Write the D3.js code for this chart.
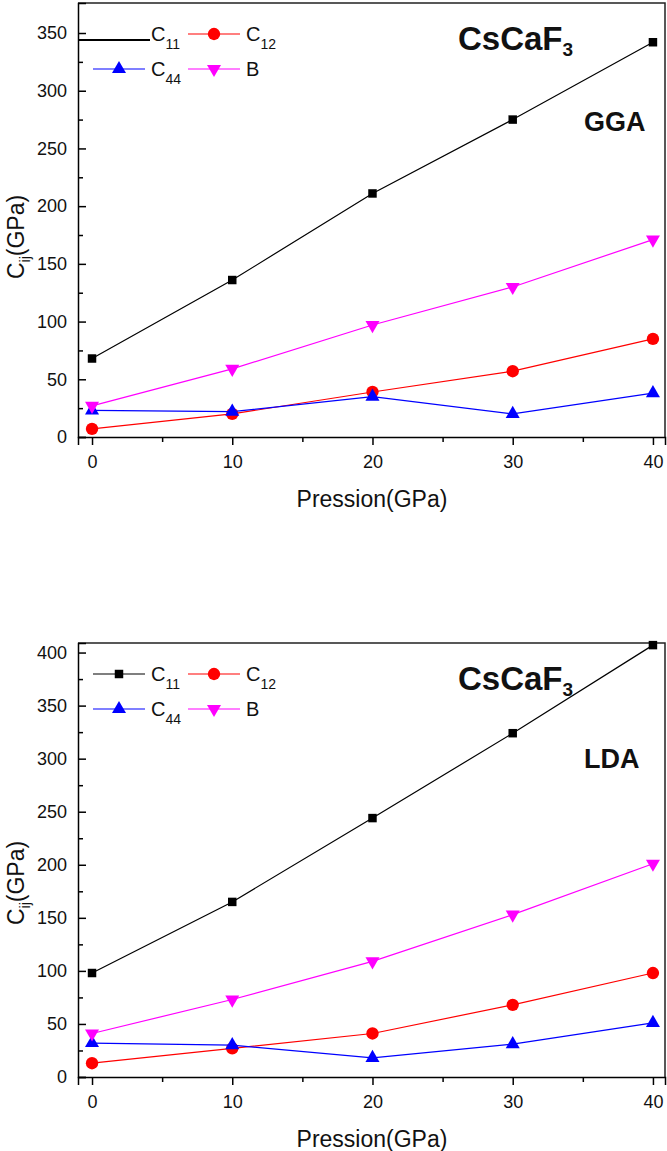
<!DOCTYPE html>
<html>
<head>
<meta charset="utf-8">
<script src="https://cdn.jsdelivr.net/npm/d3@7"></script>
<style>
  body { margin: 0; background: #fff; }
  svg { display: block; font-family: "Liberation Sans", Arial, sans-serif; }
</style>
</head>
<body>
<div id="chart"></div>
<script>
// pressure values (GPa)
const pressure = [0, 10, 20, 30, 40];

// GGA elastic constants (GPa)
const ggaC11 = [68, 136, 211, 275, 342];
const ggaC12 = [7, 20, 39, 57, 85];
const ggaC44 = [23, 22, 35, 20, 38];
const ggaB = [27, 59, 97, 130, 171];

// LDA elastic constants (GPa)
const ldaC11 = [98, 165, 244, 324, 407];
const ldaC12 = [13, 27, 41, 68, 98];
const ldaC44 = [32, 30, 18, 31, 51];
const ldaB = [41, 73, 109, 153, 201];

const seriesNames = ["11", "12", "44", "B"];
const xTicks = [0, 10, 20, 30, 40];
const ggaYTicks = [0, 50, 100, 150, 200, 250, 300, 350];
const ldaYTicks = [0, 50, 100, 150, 200, 250, 300, 350, 400];

const W = 667, H = 1151;
const svg = d3.select("#chart").append("svg")
  .attr("width", W)
  .attr("height", H);

const styles = [
  { color: "#000000", symbol: d3.symbolSquare, size: 72, rot: 0 },
  { color: "#ff0000", symbol: d3.symbolCircle, size: 120, rot: 0 },
  { color: "#0000ff", symbol: d3.symbolTriangle, size: 85, rot: 0 },
  { color: "#ff00ff", symbol: d3.symbolTriangle, size: 85, rot: 180 }
];

function drawPanel(opts) {
  const left = 78, right = 665;
  const { top, bottom } = opts;

  const x = d3.scaleLinear().domain([-1, 40.86]).range([left, right]);
  const y = d3.scaleLinear().domain([0, opts.yMax]).range([bottom, top]);

  const g = svg.append("g");

  // frame (top + right)
  g.append("path")
    .attr("d", `M${left},${top}H${right}V${bottom}`)
    .attr("fill", "none")
    .attr("stroke", "#222")
    .attr("stroke-width", 1.5);

  // y axis: inward ticks
  const yAxis = g.append("g")
    .attr("transform", `translate(${left},0)`)
    .call(d3.axisLeft(y).tickValues(opts.yTicks).tickSize(-8).tickPadding(11));
  yAxis.select(".domain").attr("stroke-width", 1.5);
  yAxis.selectAll(".tick line").attr("stroke-width", 1.5);
  yAxis.selectAll("text").attr("font-size", 18).attr("font-family", "Liberation Sans, Arial, sans-serif").attr("fill", "#111");

  const yMinor = opts.yTicks.slice(0, -1).map(v => v + 25).filter(v => v < opts.yMax);
  g.append("g")
    .attr("transform", `translate(${left},0)`)
    .call(d3.axisLeft(y).tickValues(yMinor).tickSize(-5).tickFormat(""))
    .call(a => a.select(".domain").remove())
    .selectAll(".tick line").attr("stroke-width", 1.5);

  // x axis: outward ticks
  const xAxis = g.append("g")
    .attr("transform", `translate(0,${bottom})`)
    .call(d3.axisBottom(x).tickValues(xTicks).tickSize(8).tickPadding(10));
  xAxis.select(".domain").attr("stroke-width", 1.5);
  xAxis.selectAll(".tick line").attr("stroke-width", 1.5);
  xAxis.selectAll("text").attr("font-size", 18).attr("font-family", "Liberation Sans, Arial, sans-serif").attr("fill", "#111");

  g.append("g")
    .attr("transform", `translate(0,${bottom})`)
    .call(d3.axisBottom(x).tickValues([5, 15, 25, 35]).tickSize(5).tickFormat(""))
    .call(a => a.select(".domain").remove())
    .selectAll(".tick line").attr("stroke-width", 1.5);

  // axis titles
  g.append("text")
    .attr("x", 372)
    .attr("y", bottom + 70)
    .attr("text-anchor", "middle")
    .attr("font-size", 23)
    .attr("fill", "#111")
    .text("Pression(GPa)");

  const yt = g.append("text")
    .attr("transform", `translate(24,${opts.yTitleY}) rotate(-90)`)
    .attr("text-anchor", "middle")
    .attr("font-size", 23)
    .attr("fill", "#111");
  yt.append("tspan").text("C");
  yt.append("tspan").attr("font-size", 14).attr("dy", 6).text("ij");
  yt.append("tspan").attr("dy", -6).text("(GPa)");

  // series
  const line = d3.line().x((d, i) => x(pressure[i])).y(d => y(d));
  opts.series.forEach((vals, k) => {
    const st = styles[k];
    g.append("path")
      .datum(vals)
      .attr("d", line)
      .attr("fill", "none")
      .attr("stroke", st.color)
      .attr("stroke-width", 1.2);
    g.selectAll(null)
      .data(vals)
      .enter().append("path")
      .attr("d", d3.symbol().type(st.symbol).size(st.size))
      .attr("transform", (d, i) => `translate(${x(pressure[i])},${y(d)}) rotate(${st.rot})`)
      .attr("fill", st.color);
  });

  // legend
  const rows = [top + 31, top + 66];
  const cols = [119, 214];
  seriesNames.forEach((name, k) => {
    const st = styles[k];
    const cx = cols[k % 2], cy = rows[Math.floor(k / 2)];
    if (k === 0 && opts.plainC11) {
      g.append("line")
        .attr("x1", left).attr("x2", 150)
        .attr("y1", cy + 6).attr("y2", cy + 6)
        .attr("stroke", "#000").attr("stroke-width", 2);
    } else {
      g.append("line")
        .attr("x1", cx - 26).attr("x2", cx + 26)
        .attr("y1", cy).attr("y2", cy)
        .attr("stroke", st.color).attr("stroke-width", 1.2);
      g.append("path")
        .attr("d", d3.symbol().type(st.symbol).size(st.size))
        .attr("transform", `translate(${cx},${cy}) rotate(${st.rot})`)
        .attr("fill", st.color);
    }
    const t = g.append("text")
      .attr("x", cx + 32)
      .attr("y", cy + 7)
      .attr("font-size", 20)
      .attr("fill", "#111");
    if (name === "B") {
      t.text("B");
    } else {
      t.append("tspan").text("C");
      t.append("tspan").attr("font-size", 14).attr("dy", 8).text(name);
    }
  });

  // compound + method labels
  const title = g.append("text")
    .attr("x", 458)
    .attr("y", top + 47)
    .attr("font-size", 33)
    .attr("font-weight", "bold")
    .attr("fill", "#111");
  title.append("tspan").text("CsCaF");
  title.append("tspan").attr("font-size", 19).attr("dy", 6).text("3");

  g.append("text")
    .attr("x", 584)
    .attr("y", opts.methodY)
    .attr("font-size", 27)
    .attr("font-weight", "bold")
    .attr("fill", "#111")
    .text(opts.method);
}

drawPanel({
  top: 3, bottom: 437, yMax: 376, yTicks: ggaYTicks,
  series: [ggaC11, ggaC12, ggaC44, ggaB],
  method: "GGA", methodY: 131, yTitleY: 237, plainC11: true
});

drawPanel({
  top: 643, bottom: 1077, yMax: 409, yTicks: ldaYTicks,
  series: [ldaC11, ldaC12, ldaC44, ldaB],
  method: "LDA", methodY: 768, yTitleY: 883, plainC11: false
});
</script>
</body>
</html>
